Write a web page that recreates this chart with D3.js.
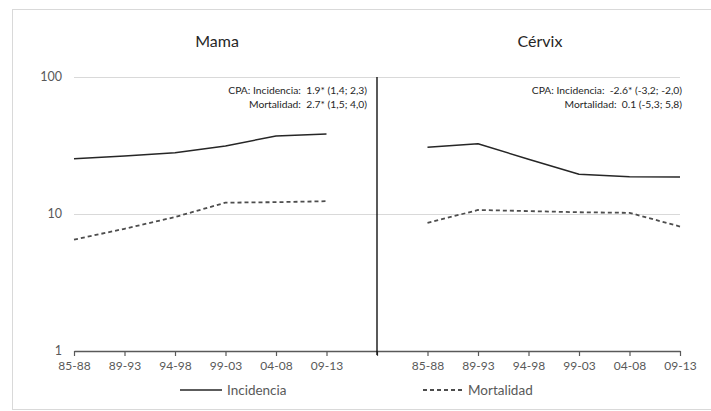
<!DOCTYPE html>
<html>
<head>
<meta charset="utf-8">
<script src="https://cdn.jsdelivr.net/npm/d3@7"></script>
<style>
  html, body { margin: 0; padding: 0; background: #fff; }
  svg { display: block; font-family: Lato, "Open Sans", sans-serif; }
</style>
</head>
<body>
<svg id="chart" width="711" height="411"></svg>
<script>
// Periods shown in each panel
const periods = ["85-88", "89-93", "94-98", "99-03", "04-08", "09-13"];
const sites = ["Mama", "Cérvix"];

// Rates per period (log scale)
const mamaIncidencia   = [25.3, 26.5, 28.0, 31.4, 37.1, 38.4];
const mamaMortalidad   = [6.5, 7.8, 9.5, 12.1, 12.2, 12.4];
const cervixIncidencia = [30.7, 32.6, 25.1, 19.5, 18.7, 18.6];
const cervixMortalidad = [8.6, 10.7, 10.5, 10.3, 10.2, 8.1];

const yTicks = [1, 10, 100];

// Annual percent change notes, one pair of lines per panel
const cpaMama   = ["CPA: Incidencia:\u00a0 1.9* (1,4; 2,3)", "Mortalidad:\u00a0 2.7* (1,5; 4,0)"];
const cpaCervix = ["CPA: Incidencia:\u00a0 -2.6* (-3,2; -2,0)", "Mortalidad:\u00a0 0.1 (-5,3; 5,8)"];

const seriesNames = ["Incidencia", "Mortalidad"];

const svg = d3.select("#chart");

// outer frame
svg.append("rect")
  .attr("x", 12.5).attr("y", 9.5)
  .attr("width", 720).attr("height", 400)
  .attr("fill", "none").attr("stroke", "#d9d9d9").attr("stroke-width", 1);

// one category axis: six periods, an empty slot, six periods
const keys = [
  ...periods.map(p => sites[0] + "|" + p),
  "sep",
  ...periods.map(p => sites[1] + "|" + p)
];

const x = d3.scalePoint().domain(keys).range([74, 680]).padding(0);
const y = d3.scaleLog().domain([1, 100]).range([351, 77]);

// horizontal gridlines
svg.append("g")
  .selectAll("line")
  .data(yTicks.filter(t => t > 1))
  .join("line")
  .attr("x1", x.range()[0]).attr("x2", x.range()[1])
  .attr("y1", d => y(d) + 0.5).attr("y2", d => y(d) + 0.5)
  .attr("stroke", "#d9d9d9").attr("stroke-width", 1);

// y tick labels
svg.append("g")
  .selectAll("text")
  .data(yTicks)
  .join("text")
  .attr("x", 62).attr("y", d => y(d))
  .attr("dy", "0.35em")
  .attr("text-anchor", "end")
  .attr("font-size", 12.5)
  .attr("fill", "#595959")
  .text(d => d3.format("d")(d));

// x axis
const xAxis = d3.axisBottom(x)
  .tickSize(5)
  .tickSizeOuter(0)
  .tickFormat(k => k === "sep" ? "" : k.split("|")[1]);

const gx = svg.append("g")
  .attr("transform", `translate(0,${y(1)})`)
  .call(xAxis);
gx.select(".domain").attr("stroke", "#595959").attr("stroke-width", 1.5);
gx.selectAll(".tick line").attr("stroke", "#595959").attr("stroke-width", 1.2);
gx.selectAll(".tick text")
  .attr("font-family", "Lato, 'Open Sans', sans-serif")
  .attr("font-size", 12)
  .attr("fill", "#595959")
  .attr("dy", "0.95em");

// panel divider
svg.append("line")
  .attr("x1", x("sep")).attr("x2", x("sep"))
  .attr("y1", y(100)).attr("y2", y(1) + 4)
  .attr("stroke", "#000").attr("stroke-width", 1.3);

// series lines
const line = d3.line()
  .x(d => x(d.key))
  .y(d => y(d.value));

const series = [
  { site: sites[0], name: seriesNames[0], values: mamaIncidencia },
  { site: sites[0], name: seriesNames[1], values: mamaMortalidad },
  { site: sites[1], name: seriesNames[0], values: cervixIncidencia },
  { site: sites[1], name: seriesNames[1], values: cervixMortalidad }
];

const styles = {
  Incidencia: { stroke: "#262626", dash: null, width: 1.5 },
  Mortalidad: { stroke: "#4d4d4d", dash: "4,3", width: 1.8 }
};

svg.append("g")
  .selectAll("path")
  .data(series)
  .join("path")
  .attr("d", s => line(s.values.map((v, i) => ({ key: s.site + "|" + periods[i], value: v }))))
  .attr("fill", "none")
  .attr("stroke", s => styles[s.name].stroke)
  .attr("stroke-width", s => styles[s.name].width)
  .attr("stroke-linejoin", "round")
  .attr("stroke-dasharray", s => styles[s.name].dash);

// panel titles
const titleX = [217, 540];
svg.append("g")
  .selectAll("text")
  .data(sites)
  .join("text")
  .attr("x", (d, i) => titleX[i]).attr("y", 47)
  .attr("text-anchor", "middle")
  .attr("font-size", 16)
  .attr("fill", "#262626")
  .text(d => d);

// CPA notes
const notes = [
  { x: 367, lines: cpaMama },
  { x: 682, lines: cpaCervix }
];
notes.forEach(n => {
  svg.append("g")
    .selectAll("text")
    .data(n.lines)
    .join("text")
    .attr("x", n.x)
    .attr("y", (d, i) => 94 + i * 13.5)
    .attr("text-anchor", "end")
    .attr("font-size", 10.3)
    .attr("fill", "#262626")
    .text(d => d);
});

// legend
const legendItems = [
  { name: seriesNames[0], x1: 180, x2: 222, tx: 227 },
  { name: seriesNames[1], x1: 423, x2: 462, tx: 468 }
];
const lg = svg.append("g");
legendItems.forEach(it => {
  const st = styles[it.name];
  lg.append("line")
    .attr("x1", it.x1).attr("x2", it.x2)
    .attr("y1", 390).attr("y2", 390)
    .attr("stroke", st.stroke)
    .attr("stroke-width", st.width)
    .attr("stroke-dasharray", st.dash);
  lg.append("text")
    .attr("x", it.tx).attr("y", 390)
    .attr("dy", "0.35em")
    .attr("font-size", 13.5)
    .attr("fill", "#595959")
    .text(it.name);
});
</script>
</body>
</html>
